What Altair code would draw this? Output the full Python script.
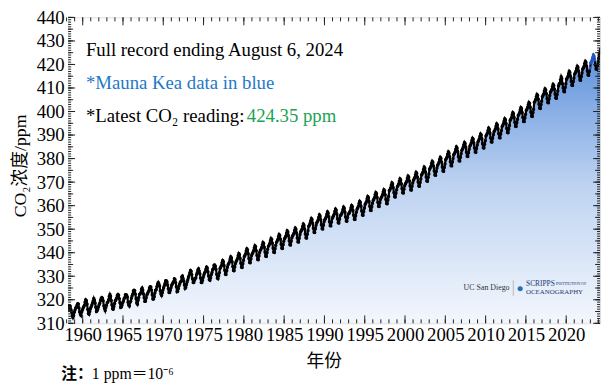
import altair as alt
import pandas as pd

first_year = 1958
first_month = 3  # record starts March 1958
co2_ppm = [
    # 1958 (Mar-Dec)
    315.7, 317.5, 317.5, 317.2, 315.9, 314.9, 313.2, 312.4, 313.3, 314.7,
    # 1959
    315.6, 316.5, 316.7, 317.7, 318.3, 318.2, 316.5, 314.8, 313.8, 313.3, 314.8, 315.6,
    # 1960
    316.4, 317.0, 317.6, 319.0, 320.0, 319.6, 318.2, 315.9, 314.2, 313.8, 315.0, 316.2,
    # 1961
    316.9, 317.7, 318.5, 319.5, 320.6, 319.8, 318.6, 316.8, 315.0, 315.3, 316.1, 317.0,
    # 1962
    317.9, 318.6, 319.7, 320.6, 321.0, 320.6, 319.6, 317.4, 316.3, 315.4, 316.7, 317.7,
    # 1963
    318.7, 319.1, 319.9, 321.4, 322.3, 321.5, 319.7, 317.8, 316.2, 316.0, 317.1, 318.4,
    # 1964
    319.6, 320.0, 320.7, 321.8, 322.3, 321.9, 320.4, 318.7, 316.7, 316.9, 317.7, 318.7,
    # 1965
    319.4, 320.4, 320.9, 322.1, 322.2, 321.9, 321.2, 318.9, 317.8, 317.3, 318.9, 319.4,
    # 1966
    320.6, 321.6, 322.4, 323.7, 324.1, 323.8, 322.4, 320.4, 318.6, 318.1, 319.8, 321.0,
    # 1967
    322.3, 322.5, 323.0, 324.4, 325.0, 324.1, 322.5, 320.9, 319.3, 319.4, 320.7, 322.0,
    # 1968
    322.6, 323.2, 323.9, 325.0, 325.6, 325.4, 324.1, 322.1, 320.3, 320.3, 321.3, 322.9,
    # 1969
    324.0, 324.4, 325.6, 326.7, 327.4, 326.7, 325.9, 323.7, 322.4, 321.8, 322.9, 324.1,
    # 1970
    325.1, 326.0, 326.9, 328.1, 328.1, 327.7, 326.3, 324.7, 323.1, 323.1, 324.0, 325.1,
    # 1971
    326.2, 326.7, 327.2, 327.8, 328.9, 328.6, 327.3, 325.5, 323.4, 323.6, 324.8, 326.0,
    # 1972
    326.8, 327.6, 327.8, 329.7, 330.1, 329.1, 328.0, 326.3, 324.8, 325.2, 326.5, 327.6,
    # 1973
    328.5, 329.6, 330.3, 331.5, 332.5, 332.1, 330.7, 328.9, 327.3, 327.3, 328.3, 328.9,
    # 1974
    329.4, 330.7, 331.5, 332.7, 333.2, 332.2, 331.1, 329.2, 327.3, 327.3, 328.3, 329.6,
    # 1975
    330.7, 331.4, 331.9, 333.1, 333.9, 333.5, 331.9, 330.1, 328.6, 328.3, 329.4, 330.6,
    # 1976
    331.6, 332.8, 333.2, 334.7, 334.8, 334.3, 333.0, 330.8, 329.2, 328.9, 330.2, 331.5,
    # 1977
    333.3, 333.8, 334.5, 335.7, 336.7, 336.2, 334.6, 332.5, 330.8, 330.7, 332.3, 333.8,
    # 1978
    334.9, 335.4, 336.1, 337.3, 338.3, 337.8, 336.2, 334.1, 332.4, 332.3, 333.9, 335.4,
    # 1979
    336.3, 336.8, 337.5, 338.7, 339.7, 339.2, 337.6, 335.5, 333.8, 333.7, 335.3, 336.8,
    # 1980
    338.3, 338.8, 339.5, 340.7, 341.7, 341.2, 339.6, 337.5, 335.8, 335.7, 337.3, 338.8,
    # 1981
    339.6, 340.1, 340.8, 342.0, 343.0, 342.5, 340.9, 338.8, 337.1, 337.0, 338.6, 340.1,
    # 1982
    341.0, 341.5, 342.2, 343.4, 344.4, 343.9, 342.3, 340.2, 338.5, 338.4, 340.0, 341.5,
    # 1983
    342.7, 343.2, 343.9, 345.1, 346.1, 345.6, 344.0, 341.9, 340.2, 340.1, 341.7, 343.2,
    # 1984
    344.4, 344.9, 345.6, 346.8, 347.8, 347.3, 345.7, 343.6, 341.9, 341.8, 343.4, 344.9,
    # 1985
    345.9, 346.4, 347.1, 348.3, 349.3, 348.8, 347.2, 345.1, 343.4, 343.3, 344.9, 346.4,
    # 1986
    347.1, 347.6, 348.3, 349.5, 350.5, 350.0, 348.4, 346.3, 344.6, 344.5, 346.1, 347.6,
    # 1987
    348.8, 349.3, 350.0, 351.2, 352.2, 351.7, 350.1, 348.0, 346.3, 346.2, 347.8, 349.3,
    # 1988
    351.2, 351.7, 352.4, 353.6, 354.6, 354.1, 352.5, 350.4, 348.7, 348.6, 350.2, 351.7,
    # 1989
    352.7, 353.2, 353.9, 355.1, 356.1, 355.6, 354.0, 351.9, 350.2, 350.1, 351.7, 353.2,
    # 1990
    354.0, 354.5, 355.2, 356.4, 357.4, 356.9, 355.3, 353.2, 351.5, 351.4, 353.0, 354.5,
    # 1991
    355.2, 355.7, 356.4, 357.6, 358.6, 358.1, 356.5, 354.4, 352.7, 352.6, 354.2, 355.7,
    # 1992
    356.0, 356.5, 357.2, 358.4, 359.4, 358.9, 357.3, 355.2, 353.5, 353.4, 355.0, 356.5,
    # 1993
    356.7, 357.2, 357.9, 359.1, 360.1, 359.6, 358.0, 355.9, 354.2, 354.1, 355.7, 357.2,
    # 1994
    358.5, 359.0, 359.7, 360.9, 361.9, 361.4, 359.8, 357.7, 356.0, 355.9, 357.5, 359.0,
    # 1995
    360.5, 361.0, 361.7, 362.9, 363.9, 363.4, 361.8, 359.7, 358.0, 357.9, 359.5, 361.0,
    # 1996
    362.2, 362.7, 363.4, 364.6, 365.6, 365.1, 363.5, 361.4, 359.7, 359.6, 361.2, 362.7,
    # 1997
    363.4, 363.9, 364.6, 365.8, 366.8, 366.3, 364.7, 362.6, 360.9, 360.8, 362.4, 363.9,
    # 1998
    366.3, 366.8, 367.5, 368.7, 369.7, 369.2, 367.6, 365.5, 363.8, 363.7, 365.3, 366.8,
    # 1999
    368.0, 368.5, 369.2, 370.4, 371.4, 370.9, 369.3, 367.2, 365.5, 365.4, 367.0, 368.5,
    # 2000
    369.2, 369.7, 370.4, 371.6, 372.6, 372.1, 370.5, 368.4, 366.7, 366.6, 368.2, 369.7,
    # 2001
    370.8, 371.3, 372.0, 373.2, 374.2, 373.7, 372.1, 370.0, 368.3, 368.2, 369.8, 371.3,
    # 2002
    373.0, 373.5, 374.2, 375.4, 376.4, 375.9, 374.3, 372.2, 370.5, 370.4, 372.0, 373.5,
    # 2003
    375.5, 376.0, 376.7, 377.9, 378.9, 378.4, 376.8, 374.7, 373.0, 372.9, 374.5, 376.0,
    # 2004
    377.2, 377.7, 378.4, 379.6, 380.6, 380.1, 378.5, 376.4, 374.7, 374.6, 376.2, 377.7,
    # 2005
    379.5, 380.0, 380.7, 381.9, 382.9, 382.4, 380.8, 378.7, 377.0, 376.9, 378.5, 380.0,
    # 2006
    381.6, 382.1, 382.8, 384.0, 385.0, 384.5, 382.9, 380.8, 379.1, 379.0, 380.6, 382.1,
    # 2007
    383.5, 384.0, 384.7, 385.9, 386.9, 386.4, 384.8, 382.7, 381.0, 380.9, 382.5, 384.0,
    # 2008
    385.3, 385.8, 386.5, 387.7, 388.7, 388.2, 386.6, 384.5, 382.8, 382.7, 384.3, 385.8,
    # 2009
    387.1, 387.6, 388.3, 389.5, 390.5, 390.0, 388.4, 386.3, 384.6, 384.5, 386.1, 387.6,
    # 2010
    389.6, 390.1, 390.8, 392.0, 393.0, 392.5, 390.9, 388.8, 387.1, 387.0, 388.6, 390.1,
    # 2011
    391.4, 391.9, 392.6, 393.8, 394.8, 394.3, 392.7, 390.6, 388.9, 388.8, 390.4, 391.9,
    # 2012
    393.6, 394.1, 394.8, 396.0, 397.0, 396.5, 394.9, 392.8, 391.1, 391.0, 392.6, 394.1,
    # 2013
    396.2, 396.7, 397.4, 398.6, 399.6, 399.1, 397.5, 395.4, 393.7, 393.6, 395.2, 396.7,
    # 2014
    398.3, 398.8, 399.5, 400.7, 401.7, 401.2, 399.6, 397.5, 395.8, 395.7, 397.3, 398.8,
    # 2015
    400.5, 401.0, 401.7, 402.9, 403.9, 403.4, 401.8, 399.7, 398.0, 397.9, 399.5, 401.0,
    # 2016
    403.9, 404.4, 405.1, 406.3, 407.3, 406.8, 405.2, 403.1, 401.4, 401.3, 402.9, 404.4,
    # 2017
    406.3, 406.8, 407.5, 408.7, 409.7, 409.2, 407.6, 405.5, 403.8, 403.7, 405.3, 406.8,
    # 2018
    408.2, 408.7, 409.4, 410.6, 411.6, 411.1, 409.5, 407.4, 405.7, 405.6, 407.2, 408.7,
    # 2019
    410.9, 411.7, 412.0, 413.5, 414.8, 414.0, 411.8, 410.0, 408.5, 408.4, 410.2, 411.8,
    # 2020
    413.7, 414.2, 414.9, 416.1, 417.1, 416.6, 415.0, 412.9, 411.2, 411.1, 412.7, 414.2,
    # 2021
    415.9, 416.4, 417.1, 418.3, 419.3, 418.8, 417.2, 415.1, 413.4, 413.3, 414.9, 416.4,
    # 2022
    418.0, 418.5, 419.2, 420.4, 421.4, 420.9, 419.3, 417.2, 415.5, 415.4, 417.0, 418.5,
    # 2023
    420.6, 421.1, 421.8, 423.0, 424.0, 423.5, 421.9, 419.8, 418.1, 418.0, 419.6, 421.1,
    # 2024 (Jan-Jul)
    422.8, 424.6, 425.4, 426.6, 426.9, 426.9, 425.6,
]
mauna_kea_period = [2022.9, 2023.6]   # months measured on Mauna Kea (blue)
baseline_ppm = 310                    # bottom of the shaded area

x_label_years = [1960, 1965, 1970, 1975, 1980, 1985, 1990, 1995, 2000, 2005, 2010, 2015, 2020]
y_label_values = [310, 320, 330, 340, 350, 360, 370, 380, 390, 400, 410, 420, 430, 440]
x_tick_years = list(range(1958, 2025))
y_tick_values = list(range(310, 441))

x_title = "年份"
y_title = "CO₂浓度/ppm"
line1 = ["Full record ending August 6, 2024"]
line2 = ["*Mauna Kea data in blue"]
line3a = ["*Latest CO₂ reading: "]
line3b = ["424.35 ppm"]
note_a = ["注："]
note_b = ["1 ppm＝10⁻⁶"]
logo_ucsd = ["UC San Diego"]
logo_s1 = ["SCRIPPS"]
logo_s2 = ["INSTITUTION OF"]
logo_s3 = ["OCEANOGRAPHY"]

# ---------------- build table ----------------
rows = []
for i, v in enumerate(co2_ppm):
    m0 = (first_month - 1) + i
    yr = first_year + m0 // 12
    mo = m0 % 12
    t = yr + (mo + 0.5) / 12
    src = "MKO" if mauna_kea_period[0] <= t <= mauna_kea_period[1] else "MLO"
    rows.append({"t": t, "ppm": v, "base": baseline_ppm, "src": src})
df = pd.DataFrame(rows)

W, H = 539, 310
SERIF = "Liberation Serif"
CJK = "Liberation Serif, Noto Sans CJK SC"

xscale = alt.Scale(domain=[1958.2, 2024.2], nice=False, zero=False)
yscale = alt.Scale(domain=[310, 440], nice=False, zero=False)

x_axis = alt.Axis(values=x_label_years, format="d", ticks=False, tickSize=0, domain=False,
                  grid=False, labelFont=SERIF, labelFontSize=19, labelColor="black",
                  labelPadding=2, labelFlush=False, labelOverlap=False,
                  title=x_title, titleFont=CJK, titleFontSize=18, titleFontWeight="normal",
                  titleColor="black", titlePadding=9, titleX=259)
y_axis = alt.Axis(values=y_label_values, format="d", ticks=False, tickSize=0, domain=False,
                  grid=False, labelFont=SERIF, labelFontSize=19, labelColor="black",
                  labelPadding=4, labelFlush=False, labelOverlap=False,
                  title=y_title, titleFont=CJK, titleFontSize=18, titleFontWeight="normal",
                  titleColor="black", titlePadding=7, titleY=150)

X = lambda f: alt.X(f, scale=xscale, axis=x_axis)
Y = lambda f: alt.Y(f, scale=yscale, axis=y_axis)

base = alt.Chart(df)
gradient = alt.Gradient(
    gradient="linear",
    stops=[alt.GradientStop(color="#f3f7fd", offset=0),
           alt.GradientStop(color="#bed3f1", offset=0.5),
           alt.GradientStop(color="#5c90db", offset=1)],
    x1=1, x2=1, y1=1, y2=0)

area = base.mark_area(clip=True, color=gradient).encode(
    x=X("t:Q"), y=Y("ppm:Q"), y2=alt.Y2("base:Q"))
line = base.mark_line(clip=True, color="black", strokeWidth=2.2).encode(
    x=X("t:Q"), y=Y("ppm:Q"))
pts = base.mark_circle(clip=True, size=12, opacity=1).encode(
    x=X("t:Q"), y=Y("ppm:Q"),
    color=alt.Color("src:N", scale=alt.Scale(domain=["MLO", "MKO"], range=["black", "#2457c8"]),
                    legend=None))

# tick marks (inward, on all four sides)
xt_minor = pd.DataFrame({"t": x_tick_years})
xt_major = pd.DataFrame({"t": [y for y in x_tick_years if y % 5 == 0]})
yt_minor = pd.DataFrame({"ppm": y_tick_values})
yt_mid = pd.DataFrame({"ppm": [v for v in y_tick_values if v % 5 == 0]})
yt_major = pd.DataFrame({"ppm": [v for v in y_tick_values if v % 10 == 0]})

TICK = "#222"

def xticks(d, ln):
    b = alt.Chart(d).mark_rule(color=TICK, strokeWidth=1)
    return (b.encode(x=X("t:Q"), y=alt.value(H), y2=alt.value(H - ln)) +
            b.encode(x=X("t:Q"), y=alt.value(0), y2=alt.value(ln)))

def yticks(d, ln):
    b = alt.Chart(d).mark_rule(color=TICK, strokeWidth=1)
    return (b.encode(y=Y("ppm:Q"), x=alt.value(0), x2=alt.value(ln)) +
            b.encode(y=Y("ppm:Q"), x=alt.value(W), x2=alt.value(W - ln)))

def txt(vals, x, y, size=19, color="black", font=SERIF, weight="normal", align="left"):
    return alt.Chart(pd.DataFrame({"s": vals})).mark_text(
        align=align, baseline="middle", font=font, fontSize=size, color=color,
        fontWeight=weight).encode(text="s:N", x=alt.value(x), y=alt.value(y))

texts = (txt(line1, 18, 33) +
         txt(line2, 18, 67, color="#1f78c8") +
         txt(line3a, 18, 100) +
         txt(line3b, 181, 100, color="#1aa352") +
         txt(note_a, -7, 361, size=16, font="Noto Sans CJK SC", weight="bold") +
         txt(note_b, 24, 361, size=16, font=CJK) +
         txt(logo_ucsd, 424, 274, size=8, color="#333", align="center") +
         txt(["│"], 451, 274, size=13, color="#bbb", align="center") +
         txt(["●"], 458, 274, size=12, color="#2a6db5", align="center") +
         txt(logo_s1, 464, 270, size=7.5, color="#1d3a6e") +
         txt(logo_s2, 494, 270, size=4, color="#1d3a6e") +
         txt(logo_s3, 464, 278, size=7, color="#1d3a6e"))

chart = alt.layer(
    area, line, pts,
    xticks(xt_minor, 4), xticks(xt_major, 8),
    yticks(yt_minor, 3), yticks(yt_mid, 5), yticks(yt_major, 7),
    texts,
).properties(
    width=W, height=H,
    autosize=alt.AutoSizeParams(type="none"),
    padding={"left": 61, "top": 7, "right": 3, "bottom": 60},
).configure_view(stroke="black", strokeWidth=1.2).configure(background="white")

chart.save("out.html", embed_options={"renderer": "svg", "actions": False})
